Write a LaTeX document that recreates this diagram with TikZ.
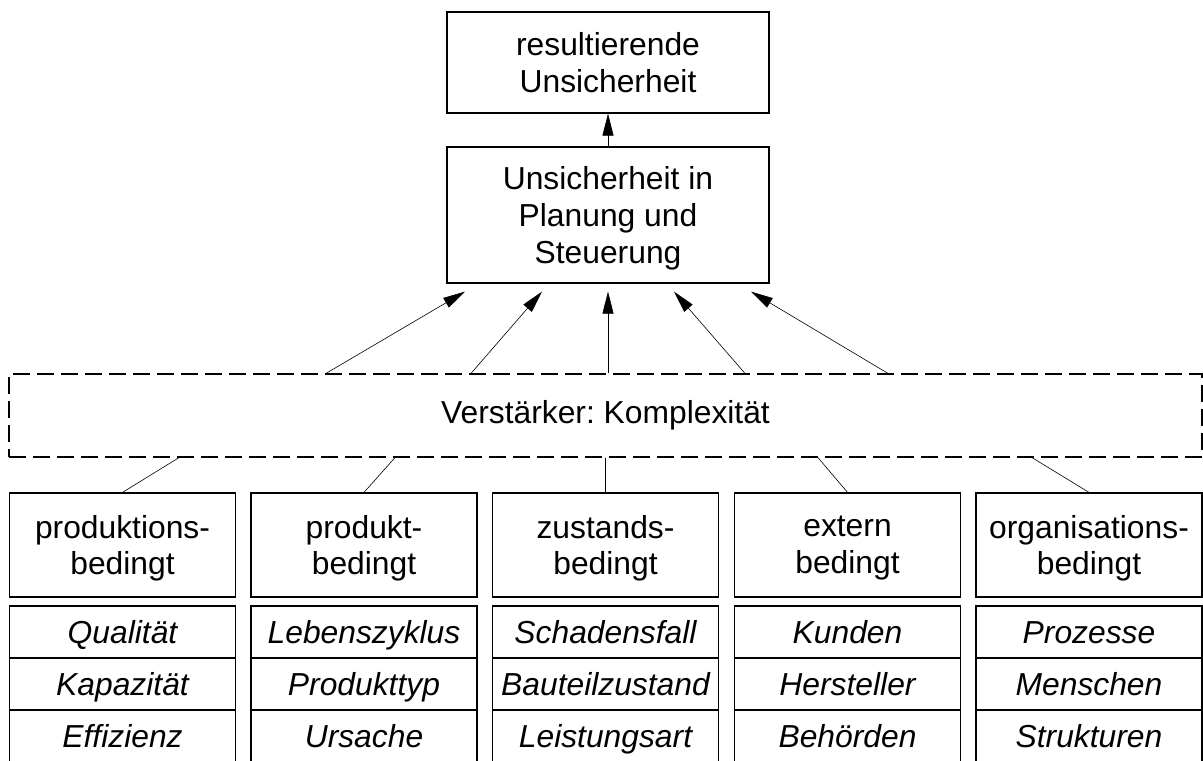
\documentclass[tikz,border=0pt]{standalone}
\usepackage{fontspec}
\setmainfont{Liberation Sans}
\usetikzlibrary{arrows.meta, calc}
\frenchspacing

\begin{document}
\begin{tikzpicture}[
    x=0.5pt, y=-0.5pt,
    every node/.style={font=\fontsize{15.9pt}{18.3pt}\selectfont, inner sep=0pt},
    box/.style={rectangle, draw, line width=0.6pt, align=center, text depth=0pt},
    topbox/.style={box, minimum width=161pt},
    amplifier/.style={rectangle, draw, line width=0.6pt, dash pattern=on 8.5pt off 3.5pt, minimum width=596.5pt, minimum height=41.5pt},
    catbox/.style={box, minimum width=113pt, minimum height=52pt, execute at begin node=\strut},
    itembox/.style={box, minimum width=113pt, minimum height=26pt, text height=11pt, font=\fontsize{15.9pt}{18.3pt}\selectfont\itshape},
    arrow/.style={-{Triangle[length=11pt, width=5.5pt]}, line width=0.3pt},
    link/.style={line width=0.3pt}
]
\useasboundingbox (0,0) rectangle (1203,760);

% ============ TOP ============
\node[topbox, minimum height=50.5pt] (result) at (608, 62.5) {resultierende\\Unsicherheit};
\node[topbox, minimum height=68pt] (plan) at (608, 215) {Unsicherheit in\\Planung und\\Steuerung};
\draw[arrow] (plan.north) -- (result.south);

% ============ AMPLIFIER ============
\node[amplifier] (amp) at (605.5, 415.5) {Verstärker: Komplexität};

% Arrows into planning
\draw[arrow] ($(amp.north)+(-279.5,0)$) -- ($(plan.south)+(-143,8)$);
\draw[arrow] ($(amp.north)+(-134.5,0)$) -- ($(plan.south)+(-66,8)$);
\draw[arrow] ($(amp.north)+(2.5,0)$) -- ($(plan.south)+(0,8)$);
\draw[arrow] ($(amp.north)+(139.5,0)$) -- ($(plan.south)+(66,8)$);
\draw[arrow] ($(amp.north)+(282.5,0)$) -- ($(plan.south)+(143,8)$);

% ============ CATEGORIES ============
\node[catbox] (prod) at (122.5, 545) {produktions-\\bedingt};
\node[catbox] (produkt) at (364, 545) {produkt-\\bedingt};
\node[catbox] (zust) at (605.5, 545) {zustands-\\bedingt};
\node[catbox] (ext) at (847.5, 545) {extern\\bedingt};
\node[catbox] (org) at (1089, 545) {organisations-\\bedingt};

% Links to the amplifier
\draw[link] ($(amp.south)+(-426.5,0)$) -- (prod.north);
\draw[link] ($(amp.south)+(-210.5,0)$) -- (produkt.north);
\draw[link] (amp.south) -- (zust.north);
\draw[link] ($(amp.south)+(212.5,0)$) -- (ext.north);
\draw[link] ($(amp.south)+(426.5,0)$) -- (org.north);

% ============ ITEMS ============
\node[itembox] (prod1) at (122.5, 632) {Qualität};
\node[itembox] (prod2) at (122.5, 684) {Kapazität};
\node[itembox] (prod3) at (122.5, 736) {Effizienz};

\node[itembox] (produkt1) at (364, 632) {Lebenszyklus};
\node[itembox] (produkt2) at (364, 684) {Produkttyp};
\node[itembox] (produkt3) at (364, 736) {Ursache};

\node[itembox] (zust1) at (605.5, 632) {Schadensfall};
\node[itembox] (zust2) at (605.5, 684) {Bauteilzustand};
\node[itembox] (zust3) at (605.5, 736) {Leistungsart};

\node[itembox] (ext1) at (847.5, 632) {Kunden};
\node[itembox] (ext2) at (847.5, 684) {Hersteller};
\node[itembox] (ext3) at (847.5, 736) {Behörden};

\node[itembox] (org1) at (1089, 632) {Prozesse};
\node[itembox] (org2) at (1089, 684) {Menschen};
\node[itembox] (org3) at (1089, 736) {Strukturen};

\end{tikzpicture}
\end{document}
